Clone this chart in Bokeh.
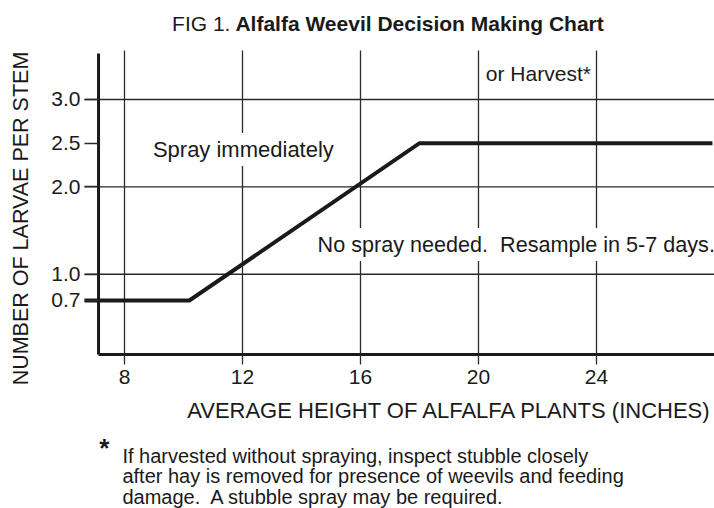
from math import pi
from bokeh.plotting import figure
from bokeh.models import FixedTicker, Label, PrintfTickFormatter
from bokeh.embed import file_html
from bokeh.resources import INLINE

# ---- data ----
height_in = [6.644, 10.2, 18.0, 27.93]     # average plant height (inches)
larvae_per_stem = [0.7, 0.7, 2.5, 2.5]     # action threshold (larvae per stem)
x_ticks = [8, 12, 16, 20, 24]
y_ticks = [0.7, 1.0, 2.0, 2.5, 3.0]
y_grid = [1.0, 2.0, 3.0]

title_plain = "FIG 1."
title_bold = "Alfalfa Weevil Decision Making Chart"
x_label = "AVERAGE HEIGHT OF ALFALFA PLANTS (INCHES)"
y_label = "NUMBER OF LARVAE PER STEM"
spray_text = "Spray immediately"
harvest_text = "or Harvest*"
nospray_text = "No spray needed.\u00a0 Resample in 5-7 days."
footnote_lines = [
    "If harvested without spraying, inspect stubble closely",
    "after hay is removed for presence of weevils and feeding",
    "damage.\u00a0 A stubble spray may be required.",
]

# chart-box extents (data units)
X_LEFT, X_AXIS, X_RIGHT = 6.644, 7.12, 28.0
Y_AXIS, Y_TOP = 0.082, 3.56

FONT = "Liberation Sans"
INK = "#1a1a1a"
GRID = "#2a2a2a"

p = figure(width=714, height=508, x_range=(3.797, 28.0), y_range=(-1.680, 4.1325),
           output_backend="svg", toolbar_location=None,
           min_border_left=0, min_border_right=0, min_border_top=0, min_border_bottom=0)
p.outline_line_color = None
p.background_fill_color = "white"
p.border_fill_color = "white"
p.grid.visible = False

# grid lines (limited to the chart box)
p.segment(x0=x_ticks, y0=[Y_AXIS] * len(x_ticks), x1=x_ticks, y1=[Y_TOP] * len(x_ticks),
          line_color=GRID, line_width=1.3)
p.segment(x0=[X_LEFT] * len(y_grid), y0=y_grid, x1=[X_RIGHT] * len(y_grid), y1=y_grid,
          line_color=GRID, line_width=1.3)
# thick left axis line
p.segment(x0=[X_AXIS], y0=[Y_AXIS], x1=[X_AXIS], y1=[Y_TOP - 0.035],
          line_color=INK, line_width=3)

# x axis
xa = p.xaxis[0]
xa.fixed_location = Y_AXIS
xa.ticker = FixedTicker(ticks=x_ticks)
xa.bounds = (X_AXIS, X_RIGHT)
xa.axis_line_width = 3
xa.axis_line_color = INK
xa.major_tick_out = 10
xa.major_tick_in = 0
xa.major_tick_line_width = 1.3
xa.major_tick_line_color = GRID
xa.minor_tick_line_color = None
xa.major_label_text_font = FONT
xa.major_label_text_font_size = "21px"
xa.major_label_text_color = INK
xa.major_label_standoff = 5

# y axis (labels + short inward ticks)
ya = p.yaxis[0]
ya.fixed_location = X_LEFT
ya.ticker = FixedTicker(ticks=y_ticks)
ya.formatter = PrintfTickFormatter(format="%.1f")
ya.axis_line_color = None
ya.major_tick_in = 14
ya.major_tick_out = 0
ya.major_tick_line_width = 1.3
ya.major_tick_line_color = GRID
ya.minor_tick_line_color = None
ya.major_label_text_font = FONT
ya.major_label_text_font_size = "21px"
ya.major_label_text_color = INK
ya.major_label_standoff = 4

# threshold line
p.line(height_in, larvae_per_stem, line_width=4, line_color=INK, line_join="miter")


def lab(x, y, text, size="21px", style="normal", align="left", baseline="middle",
        angle=0, bg=None):
    l = Label(x=x, y=y, text=text, text_font=FONT, text_font_size=size,
              text_font_style=style, text_align=align, text_baseline=baseline,
              text_color=INK, angle=angle)
    if bg:
        l.background_fill_color = bg
        l.padding = 4
    p.add_layout(l)


# title
lab(11.59, 3.865, title_plain, align="right")
lab(11.76, 3.865, title_bold, style="bold")

# region labels
lab(12.03, 2.428, spray_text, size="22px", align="center", bg="white")
lab(14.41, 1.341, nospray_text, size="21.6px", align="left", bg="white")
lab(22.03, 3.297, harvest_text, align="center")

# axis titles
lab(27.93, -0.559, x_label, size="22px", align="right")
lab(4.475, 1.638, y_label, size="21.5px", align="center", angle=pi / 2)

# footnote
lab(7.32, -0.985, "*", size="26px", style="bold", align="center", baseline="alphabetic")
for i, t in enumerate(footnote_lines):
    lab(7.93, -1.074 - 0.2375 * i, t, size="20px", baseline="middle")

open("out.html", "w").write(file_html(p, INLINE))
